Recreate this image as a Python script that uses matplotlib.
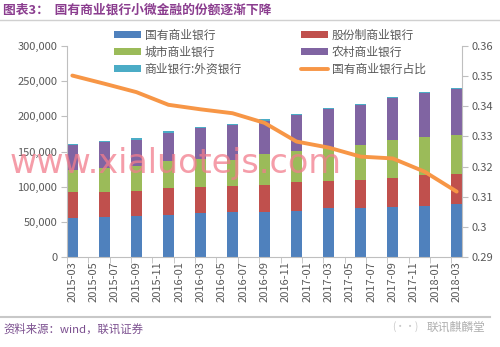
import matplotlib.pyplot as plt
from matplotlib.ticker import FuncFormatter, FixedLocator

plt.rcParams['font.family'] = ['Noto Sans CJK SC', 'DejaVu Sans']

# 季度数据（月份序号：0 = 2015-03）
months = [0, 3, 6, 9, 12, 15, 18, 21, 24, 27, 30, 33, 36]
tick_labels = ['2015-03', '2015-05', '2015-07', '2015-09', '2015-11', '2016-01',
               '2016-03', '2016-05', '2016-07', '2016-09', '2016-11', '2017-01',
               '2017-03', '2017-05', '2017-07', '2017-09', '2017-11', '2018-01',
               '2018-03']

guoyou = [55700, 57000, 57800, 60000, 62000, 63500, 64000, 65500, 69500, 70300, 71500, 73000, 75500]
gufen = [37200, 36000, 35700, 38500, 38000, 37000, 39000, 40500, 38000, 39700, 41500, 43000, 43100]
chengshi = [31400, 34000, 35500, 37500, 40000, 38100, 43000, 44500, 48000, 48600, 53000, 55000, 55400]
nongcun = [34300, 37000, 38000, 41000, 43000, 48400, 48000, 51500, 55000, 57400, 59500, 61500, 64500]
waizi = [1400, 1500, 1500, 1600, 1600, 1700, 1700, 1800, 1800, 1900, 1900, 2000, 2000]
zhanbi = [0.3502, 0.3475, 0.3447, 0.3405, 0.3390, 0.3377, 0.3345, 0.3283,
          0.3263, 0.3233, 0.3227, 0.3183, 0.3117]

series = [('国有商业银行', guoyou, '#4f81bd'),
          ('股份制商业银行', gufen, '#c0504d'),
          ('城市商业银行', chengshi, '#9bbb59'),
          ('农村商业银行', nongcun, '#8064a2'),
          ('商业银行:外资银行', waizi, '#4bacc6')]

grey = '#595959'
fig = plt.figure(figsize=(5.0, 3.47), dpi=100)
ax = fig.add_axes([0.134, 0.2594, 0.79, 0.608])

bottom = [0] * len(months)
bars = {}
for name, vals, color in series:
    bars[name] = ax.bar(months, vals, width=1.05, bottom=bottom, color=color,
                        label=name, zorder=2)
    bottom = [b + v for b, v in zip(bottom, vals)]

ax.set_xlim(-0.5, 36.5)
ax.set_ylim(0, 300000)
ax.set_yticks(range(0, 300001, 50000))
ax.yaxis.set_major_formatter(FuncFormatter(lambda v, p: f'{int(v):,}'))
ax.set_xticks(range(0, 37, 2))
ax.set_xticklabels(tick_labels, rotation=90)
ax.xaxis.set_minor_locator(FixedLocator([x - 0.5 for x in range(0, 38, 2)]))
ax.tick_params(axis='x', which='major', length=0, pad=3)
ax.tick_params(axis='x', which='minor', length=4, color='#bfbfbf')
ax.tick_params(axis='y', length=4, color='#bfbfbf', pad=3)
ax.tick_params(labelsize=8, labelcolor=grey)
for s in ['top', 'right']:
    ax.spines[s].set_visible(False)
for s in ['left', 'bottom']:
    ax.spines[s].set_color('#bfbfbf')

ax2 = ax.twinx()
line, = ax2.plot(months, zhanbi, color='#f79646', lw=2.8, solid_joinstyle='round',
                 solid_capstyle='round', label='国有商业银行占比', zorder=3)
ax2.set_ylim(0.29, 0.36)
ax2.set_yticks([0.29, 0.30, 0.31, 0.32, 0.33, 0.34, 0.35, 0.36])
ax2.yaxis.set_major_formatter(FuncFormatter(lambda v, p: f'{round(v, 2):g}'))
ax2.tick_params(axis='y', length=4, color='#bfbfbf', labelsize=8, labelcolor=grey, pad=3)
for s in ['top', 'left', 'bottom']:
    ax2.spines[s].set_visible(False)
ax2.spines['right'].set_color('#bfbfbf')

handles = [bars['国有商业银行'], bars['城市商业银行'], bars['商业银行:外资银行'],
           bars['股份制商业银行'], bars['农村商业银行'], line]
labels = ['国有商业银行', '城市商业银行', '商业银行:外资银行',
          '股份制商业银行', '农村商业银行', '国有商业银行占比']
fig.legend(handles, labels, ncol=2, loc='upper left', bbox_to_anchor=(0.228, 0.918),
           frameon=False, fontsize=8.5, handlelength=2.3, handleheight=0.6,
           handletextpad=0.3, labelspacing=0.35, columnspacing=5.0,
           borderpad=0, borderaxespad=0, labelcolor=grey)

# 标题、分隔线与来源
fig.text(0.006, 0.972, '图表3：  国有商业银行小微金融的份额逐渐下降', fontsize=9.2,
         fontweight='bold', color='#8b3d8f', va='center', ha='left')
fig.add_artist(plt.Line2D([0, 1], [0.942, 0.942], color='#d0d0d0', lw=1))
fig.add_artist(plt.Line2D([0, 0.98], [0.086, 0.086], color='#c8c8c8', lw=1.5))
fig.text(0.006, 0.052, '资料来源：wind，联讯证券', fontsize=8.2, style='italic',
         color='#7b4f8f', va='center', ha='left')
fig.text(0.97, 0.058, '联讯麒麟堂', fontsize=8.5, color='#b0b0b0', va='center', ha='right')
fig.text(0.81, 0.058, '(\u2022\u2022)', fontsize=7, color='#c8c8c8', va='center', ha='center')

# 水印
fig.text(0.02, 0.528, 'www.xialuotejs.com', fontsize=24, color='#f27d8c', alpha=0.75,
         family='DejaVu Sans', va='center', ha='left', zorder=10)

fig.savefig('out.png', dpi=100)
